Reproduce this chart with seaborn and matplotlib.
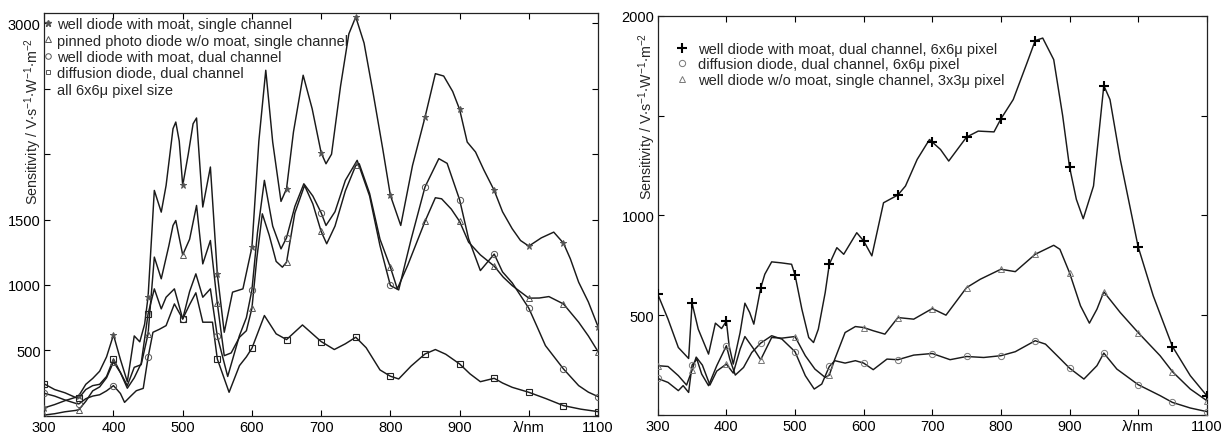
import numpy as np
import matplotlib
matplotlib.use("Agg")
import matplotlib.pyplot as plt
from matplotlib.lines import Line2D
import seaborn as sns

# ---- left panel: 6x6u pixel diodes ----
star_nm = [300, 315, 330, 345, 350, 360, 370, 380, 390, 400, 410, 420, 430, 438, 445, 450, 459, 469, 476, 486,
           490, 495, 500, 508, 515, 520, 529, 540, 550, 560, 572, 587, 600, 610, 620, 630, 642, 650, 660, 674,
           687, 700, 707, 715, 728, 740, 750, 762, 775, 789, 800, 815, 832, 850, 865, 877, 890, 900, 911, 923,
           935, 950, 962, 976, 988, 1000, 1018, 1036, 1050, 1060, 1072, 1086, 1100]
star_val = [60, 85, 115, 140, 153, 240, 285, 340, 450, 618, 430, 260, 610, 565, 700, 911, 1723, 1557, 1761, 2195,
            2246, 2100, 1761, 2000, 2233, 2277, 1596, 1902, 1085, 638, 945, 970, 1289, 2100, 2642, 2093, 1639, 1736, 2170, 2604,
            2348, 2011, 1927, 2000, 2520, 2920, 3050, 2850, 2470, 2040, 1685, 1455, 1914, 2282, 2616, 2598, 2480, 2343, 2093, 2017,
            1880, 1723, 1560, 1430, 1340, 1297, 1360, 1404, 1320, 1200, 1021, 870, 681]

tri_nm = [300, 315, 330, 345, 350, 360, 370, 380, 390, 400, 410, 420, 430, 440, 450, 459, 469, 480, 486, 490,
          500, 510, 520, 529, 540, 550, 560, 570, 582, 592, 600, 607, 615, 625, 635, 644, 650, 662, 676, 688,
          700, 708, 720, 735, 750, 755, 770, 785, 800, 810, 825, 850, 865, 874, 888, 900, 913, 930, 950, 963,
          976, 1000, 1015, 1029, 1050, 1072, 1086, 1100]
tri_val = [5, 15, 30, 40, 46, 110, 190, 220, 290, 411, 330, 230, 370, 390, 626, 1213, 1047, 1300, 1455, 1493,
           1230, 1350, 1608, 1161, 1340, 860, 459, 480, 600, 650, 822, 1200, 1544, 1380, 1180, 1136, 1174, 1550, 1761, 1620,
           1409, 1315, 1450, 1720, 1914, 1927, 1700, 1350, 1136, 970, 1150, 1486, 1667, 1659, 1580, 1486, 1327, 1230, 1144, 1060,
           995, 899, 900, 911, 855, 715, 610, 490]

circ_nm = [300, 315, 330, 345, 350, 360, 370, 380, 390, 400, 410, 416, 425, 433, 443, 450, 457, 466, 476, 488,
           500, 510, 519, 529, 540, 550, 565, 582, 592, 600, 608, 618, 630, 642, 650, 662, 675, 688, 700, 707,
           720, 735, 752, 770, 785, 800, 812, 830, 850, 870, 882, 900, 913, 930, 950, 962, 976, 1000, 1012, 1024,
           1050, 1072, 1086, 1100]
circ_val = [171, 150, 120, 95, 90, 130, 150, 160, 190, 230, 170, 102, 150, 191, 209, 447, 638, 660, 689, 855,
            740, 950, 1085, 906, 970, 608, 300, 613, 750, 962, 1400, 1800, 1450, 1276, 1361, 1600, 1774, 1680, 1552, 1455,
            1560, 1800, 1953, 1680, 1300, 996, 962, 1350, 1749, 1966, 1930, 1652, 1353, 1110, 1236, 1100, 1016, 822, 680, 536,
            358, 230, 180, 146]

sq_nm = [300, 315, 330, 345, 350, 360, 370, 380, 390, 400, 410, 420, 430, 440, 450, 459, 469, 476, 488, 500,
         510, 519, 529, 543, 550, 567, 582, 592, 600, 618, 635, 650, 673, 700, 719, 735, 750, 765, 785, 800,
         812, 830, 850, 865, 880, 900, 915, 930, 950, 962, 976, 1000, 1025, 1050, 1075, 1100]
sq_val = [243, 200, 175, 140, 135, 200, 230, 240, 300, 434, 330, 210, 290, 400, 779, 970, 817, 906, 970, 740,
          850, 940, 715, 715, 434, 179, 383, 450, 516, 766, 626, 582, 694, 567, 506, 550, 600, 520, 350, 302,
          281, 380, 472, 506, 470, 396, 320, 260, 286, 250, 217, 179, 130, 77, 50, 31]

left_labels = ["well diode with moat, single channel",
               "pinned photo diode w/o moat, single channel",
               "well diode with moat, dual channel",
               "diffusion diode, dual channel",
               "all 6x6\u03bc pixel size"]

# ---- right panel ----
plus_nm = [300, 315, 330, 345, 350, 359, 374, 384, 393, 400, 404, 410, 420, 427, 434, 440, 450, 456, 466, 480,
           495, 500, 510, 520, 527, 534, 544, 550, 561, 571, 590, 600, 612, 629, 650, 661, 678, 696, 700, 712,
           724, 750, 767, 790, 800, 818, 838, 850, 861, 877, 890, 900, 910, 920, 935, 950, 959, 974, 1000, 1022,
           1050, 1076, 1100]
plus_val = [605, 480, 338, 283, 560, 430, 305, 460, 433, 470, 347, 255, 413, 560, 513, 455, 636, 705, 767, 762,
            755, 702, 530, 388, 363, 430, 613, 755, 838, 805, 913, 872, 797, 1063, 1102, 1147, 1280, 1380, 1367, 1330,
            1272, 1392, 1422, 1418, 1483, 1580, 1763, 1875, 1888, 1780, 1500, 1243, 1080, 983, 1147, 1650, 1580, 1280, 843, 597,
            343, 197, 97]

dcirc_nm = [300, 315, 330, 337, 345, 350, 357, 364, 374, 386, 400, 405, 413, 425, 437, 450, 466, 481, 500, 515,
            528, 539, 550, 558, 573, 588, 600, 614, 634, 650, 673, 700, 726, 750, 775, 800, 821, 850, 865, 882,
            900, 921, 940, 950, 969, 1000, 1032, 1050, 1076, 1100]
dcirc_val = [183, 163, 122, 147, 113, 250, 280, 205, 147, 247, 347, 280, 200, 238, 313, 360, 397, 380, 317, 197,
             130, 155, 243, 272, 260, 272, 260, 227, 280, 277, 300, 308, 277, 293, 288, 297, 317, 372, 355, 297,
             235, 180, 247, 310, 230, 152, 97, 63, 35, 17]

wtri_nm = [300, 315, 330, 342, 350, 356, 365, 376, 386, 400, 410, 420, 427, 442, 450, 466, 481, 500, 515, 529,
           544, 550, 558, 573, 588, 600, 614, 631, 650, 673, 700, 720, 750, 770, 800, 821, 850, 877, 886, 900,
           916, 929, 940, 950, 974, 1000, 1032, 1050, 1076, 1100]
wtri_val = [247, 243, 197, 150, 225, 290, 250, 150, 220, 255, 210, 330, 393, 320, 277, 388, 385, 393, 297, 230,
            188, 200, 280, 413, 443, 438, 422, 405, 488, 480, 533, 500, 638, 680, 730, 718, 805, 850, 830, 713,
            547, 460, 530, 617, 513, 413, 297, 217, 130, 72]

right_labels = ["well diode with moat, dual channel, 6x6\u03bc pixel",
                "diffusion diode, dual channel, 6x6\u03bc pixel",
                "well diode w/o moat, single channel, 3x3\u03bc pixel"]

x_ticks = [300, 400, 500, 600, 700, 800, 900, 1000, 1100]
x_ticklabels = ["300", "400", "500", "600", "700", "800", "900", "\u03bb/nm", "1100"]

sns.set_theme(style="ticks")
plt.rcParams["font.family"] = ["Liberation Sans", "DejaVu Sans"]
plt.rcParams["mathtext.fontset"] = "custom"
plt.rcParams["mathtext.rm"] = "Liberation Sans"
plt.rcParams["mathtext.default"] = "regular"

LINE = "#1a1a1a"
MK = "#555555"
ylabel = r"Sensitivity / V$\cdot$s$^{-1}$$\cdot$W$^{-1}$$\cdot$m$^{-2}$"

fig = plt.figure(figsize=(12.26, 4.35), dpi=100)
ax1 = fig.add_axes([0.0361, 0.0421, 0.4517, 0.9257])
ax2 = fig.add_axes([0.5365, 0.0437, 0.4478, 0.9179])


def draw(ax, nm, val, marker, ms, mcol, mew, mfc):
    nm = np.asarray(nm)
    val = np.asarray(val)
    sns.lineplot(x=nm, y=val, ax=ax, color=LINE, lw=1.05, sort=False, estimator=None)
    keep = nm % 50 == 0
    sns.lineplot(x=nm[keep], y=val[keep], ax=ax, linestyle="none", marker=marker, markersize=ms,
                 markeredgecolor=mcol, markerfacecolor=mfc, markeredgewidth=mew, sort=False,
                 estimator=None, zorder=3)


draw(ax1, star_nm, star_val, "*", 5, MK, 0.7, MK)
draw(ax1, tri_nm, tri_val, "^", 4.5, MK, 0.7, "none")
draw(ax1, circ_nm, circ_val, "o", 4.5, MK, 0.7, "none")
draw(ax1, sq_nm, sq_val, "s", 4, "#222222", 0.8, "none")

draw(ax2, plus_nm, plus_val, "+", 7, "black", 1.5, "none")
draw(ax2, dcirc_nm, dcirc_val, "o", 4.5, "#777777", 0.7, "none")
draw(ax2, wtri_nm, wtri_val, "^", 4.5, "#777777", 0.7, "none")

for ax in (ax1, ax2):
    ax.set_xlim(300, 1100)
    ax.set_xticks(x_ticks)
    ax.set_xticklabels(x_ticklabels)
    ax.tick_params(direction="in", top=True, right=True, length=4, width=0.8,
                   labelsize=10.5, colors="black", pad=3)
    ax.tick_params(axis="y", pad=2.5)
    for sp in ax.spines.values():
        sp.set_visible(True)
        sp.set_color("#222222")
        sp.set_linewidth(0.9)
    ax.set_xlabel("")

ax1.set_ylim(0, 3080)
ax1.set_yticks([0, 500, 1000, 1500, 2000, 2500, 3000])
ax1.set_yticklabels(["", "500", "1000", "1500", "", "", "3000"])
ax1.set_ylabel(ylabel, fontsize=10.3)
ax1.yaxis.set_label_coords(-0.001, 0.733)

ax2.set_ylim(0, 2000)
ax2.set_yticks([0, 500, 1000, 1500, 2000])
ax2.set_yticklabels(["", "500", "1000", "", "2000"])
ax2.set_ylabel(ylabel, fontsize=10.3)
ax2.yaxis.set_label_coords(0.001, 0.751)

h1 = [Line2D([], [], ls="none", marker="*", ms=4.5, color=MK),
      Line2D([], [], ls="none", marker="^", ms=4, mec=MK, mfc="none", mew=0.7),
      Line2D([], [], ls="none", marker="o", ms=4, mec=MK, mfc="none", mew=0.7),
      Line2D([], [], ls="none", marker="s", ms=3.5, mec=MK, mfc="none", mew=0.7),
      Line2D([], [], ls="none")]
ax1.legend(h1, left_labels, loc="upper left", bbox_to_anchor=(0.0, 0.99), borderaxespad=0,
           borderpad=0, frameon=False, fontsize=10.5, handlelength=0.45, handletextpad=0.4,
           labelspacing=0.17)

h2 = [Line2D([], [], ls="none", marker="+", ms=7, color="black", mew=1.5),
      Line2D([], [], ls="none", marker="o", ms=4.5, mec="#777777", mfc="none", mew=0.7),
      Line2D([], [], ls="none", marker="^", ms=4.5, mec="#777777", mfc="none", mew=0.7)]
ax2.legend(h2, right_labels, loc="upper left", bbox_to_anchor=(0.0255, 0.935), borderaxespad=0,
           borderpad=0, frameon=False, fontsize=10.5, handlelength=1.4, handletextpad=0.4,
           labelspacing=0.12)

fig.savefig("out.png", dpi=100, facecolor="white")
